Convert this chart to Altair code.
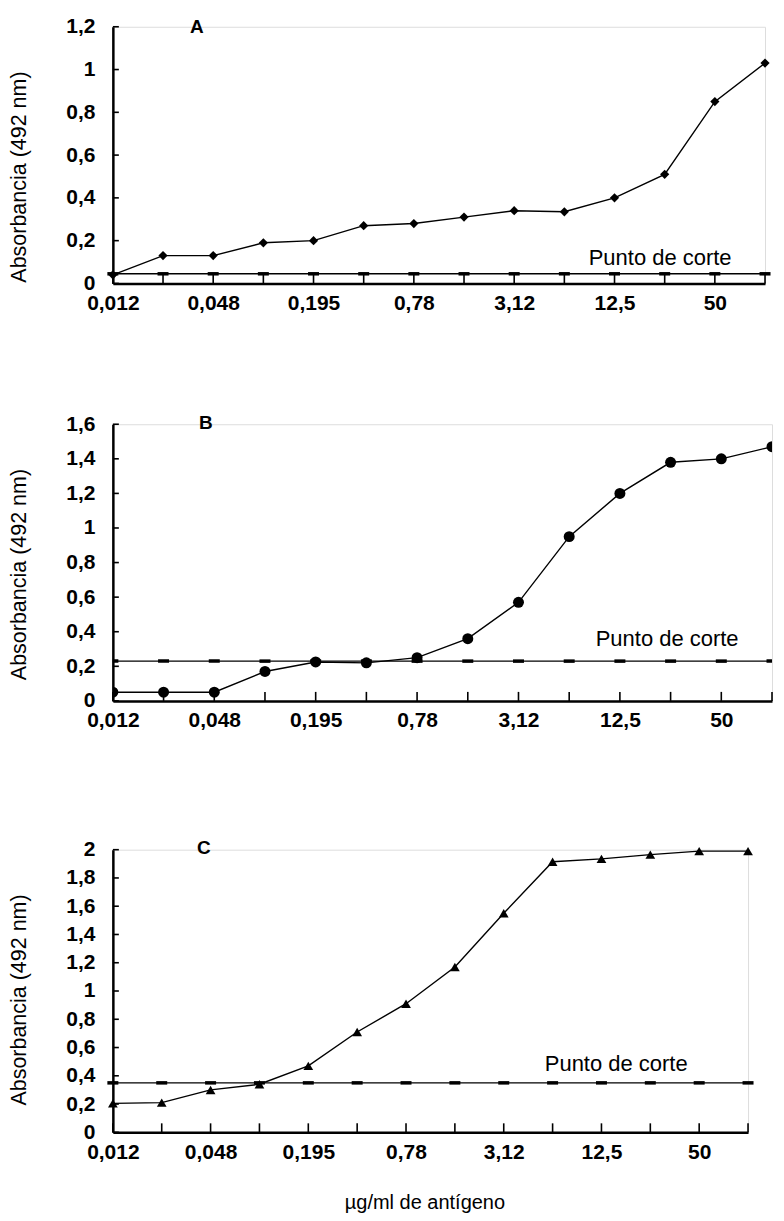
import altair as alt
import pandas as pd

# --- data ---
conc = ["0,012", "0,024", "0,048", "0,097", "0,195", "0,39", "0,78",
        "1,56", "3,12", "6,25", "12,5", "25", "50", "100"]
shown_labels = ["0,012", "0,048", "0,195", "0,78", "3,12", "12,5", "50"]

abs_A = [0.04, 0.13, 0.13, 0.19, 0.20, 0.27, 0.28, 0.31, 0.34, 0.335, 0.40, 0.51, 0.85, 1.03]
abs_B = [0.05, 0.05, 0.05, 0.17, 0.225, 0.22, 0.25, 0.36, 0.57, 0.95, 1.20, 1.38, 1.40, 1.47]
abs_C = [0.205, 0.21, 0.30, 0.34, 0.47, 0.71, 0.91, 1.17, 1.55, 1.915, 1.935, 1.965, 1.99, 1.99]

cut_A = 0.045
cut_B = 0.23
cut_C = 0.35

yticks_A = [0, 0.2, 0.4, 0.6, 0.8, 1.0, 1.2]
yticks_B = [0, 0.2, 0.4, 0.6, 0.8, 1.0, 1.2, 1.4, 1.6]
yticks_C = [0, 0.2, 0.4, 0.6, 0.8, 1.0, 1.2, 1.4, 1.6, 1.8, 2.0]

y_title = "Absorbancia (492 nm)"
x_title = "µg/ml de antígeno"
cut_label = "Punto de corte"

FONT = "Liberation Sans"


def panel(vals, cut, yticks, shape, size, width, height, letter, letter_xy,
          punto_xy, show_xtitle, clip=False):
    df = pd.DataFrame({"conc": conc, "abs": vals, "cut": [cut] * len(conc)})
    label_list = "[" + ",".join("'%s'" % s for s in shown_labels) + "]"
    x_axis = alt.Axis(
        title=x_title if show_xtitle else None,
        labelExpr="indexof(%s, datum.value) >= 0 ? datum.value : ''" % label_list,
        labelAngle=0, labelOverlap=False, ticks=False, domainWidth=2.5,
        domainColor="black", labelPadding=9, labelFontSize=21,
        labelFontWeight="bold", labelFont=FONT, labelColor="black",
        titleFont=FONT, titleFontSize=20, titleFontWeight="normal",
        titleColor="black", titleX=312, titleY=76, titleAlign="center",
        titleBaseline="alphabetic", grid=False,
    )
    x_scale = alt.Scale(type="point", padding=0)
    y_axis = alt.Axis(
        title=y_title, values=yticks,
        labelExpr="replace(format(datum.value, '.1~f'), '.', ',')",
        ticks=False, domainWidth=2.5, domainColor="black", labelPadding=18,
        labelFontSize=21, labelFontWeight="bold", labelFont=FONT,
        labelColor="black", titleFont=FONT, titleFontSize=21.5,
        titleFontWeight="normal", titleColor="black", titleX=-93, titleY=150,
        titleAlign="center", titleBaseline="middle", grid=False,
    )
    y_scale = alt.Scale(domain=[0, yticks[-1]], nice=False)

    X = alt.X("conc:N", sort=conc, scale=x_scale, axis=x_axis)
    base = alt.Chart(df)

    line = base.mark_line(color="black", strokeWidth=1.4, clip=clip).encode(
        x=X, y=alt.Y("abs:Q", scale=y_scale, axis=y_axis))
    pts = base.mark_point(shape=shape, filled=True, color="black", size=size,
                          opacity=1, clip=clip).encode(
        x=X, y=alt.Y("abs:Q", scale=y_scale, axis=y_axis))
    cutline = base.mark_line(color="black", strokeWidth=1.4).encode(
        x=X, y=alt.Y("cut:Q", scale=y_scale, axis=y_axis))
    cutmarks = base.mark_tick(orient="horizontal", size=11, thickness=3.5,
                              color="black", opacity=1, clip=clip).encode(
        x=X, y=alt.Y("cut:Q", scale=y_scale, axis=y_axis))
    xt = base.mark_rule(color="black", strokeWidth=1.6).encode(
        x=X, y=alt.value(height), y2=alt.value(height - 9))

    ydf = pd.DataFrame({"abs": yticks})
    yt = alt.Chart(ydf).mark_rule(color="black", strokeWidth=1.6).encode(
        y=alt.Y("abs:Q", scale=y_scale, axis=y_axis),
        x=alt.value(0), x2=alt.value(6))

    letter_txt = alt.Chart(pd.DataFrame({"t": [letter]})).mark_text(
        font=FONT, fontSize=19, fontWeight="bold", color="black",
        align="center", baseline="middle").encode(
        text="t:N", x=alt.value(letter_xy[0]), y=alt.value(letter_xy[1]))
    punto_txt = alt.Chart(pd.DataFrame({"t": [cut_label]})).mark_text(
        font=FONT, fontSize=22, color="black", align="center",
        baseline="alphabetic").encode(
        text="t:N", x=alt.value(punto_xy[0]), y=alt.value(punto_xy[1]))

    return alt.layer(cutline, cutmarks, xt, yt, line, pts, letter_txt,
                     punto_txt).properties(width=width, height=height)


pA = panel(abs_A, cut_A, yticks_A, "diamond", 85, 653, 257, "A", (84, 0),
           (548, 239), False)
pB = panel(abs_B, cut_B, yticks_B, "circle", 121, 660, 277, "B", (93, -1),
           (555, 222), False, clip=True)
pC = panel(abs_C, cut_C, yticks_C, "triangle-up", 95, 636, 283, "C", (91, -2),
           (504, 222), True)

chart = alt.vconcat(pA, alt.vconcat(pB, pC, spacing=106), spacing=98,
                    padding={"left": 0, "top": 6, "right": 0, "bottom": 0}
                    ).configure_view(stroke=None).configure(background="white")

chart.save("out.html", embed_options={"renderer": "svg", "actions": False})
